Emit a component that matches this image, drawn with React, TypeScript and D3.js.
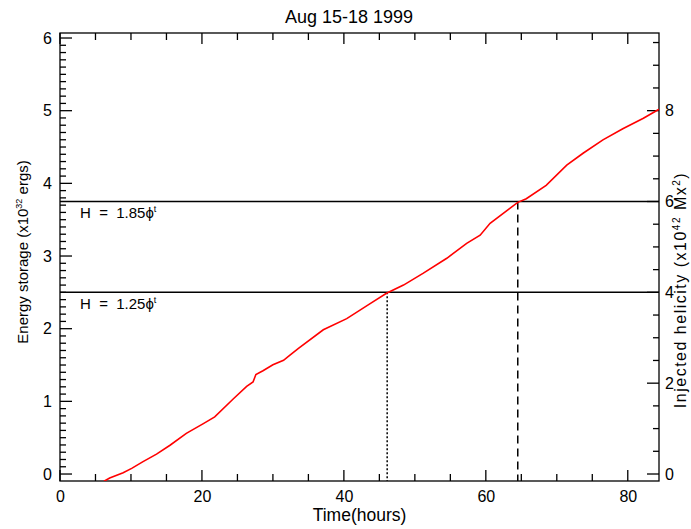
import React, { useEffect, useRef } from "react";
import * as d3 from "d3";

// energy storage curve
const hours = [6.2, 7.0, 8.9, 10.1, 11.7, 13.6, 15.5, 17.8, 20.2, 21.8, 24.4, 26.3, 27.2, 27.6, 28.6, 30.0, 31.5, 32.4, 33.6, 37.1, 40.4, 43.7, 46.0, 48.4, 51.2, 54.5, 57.3, 59.2, 60.6, 64.5, 65.7, 68.5, 71.4, 73.7, 76.5, 79.3, 82.2, 84.4];
const energy = [-0.1, -0.055, 0.017, 0.078, 0.17, 0.273, 0.396, 0.56, 0.693, 0.786, 1.032, 1.206, 1.267, 1.37, 1.421, 1.503, 1.565, 1.636, 1.729, 1.985, 2.138, 2.344, 2.487, 2.6, 2.764, 2.969, 3.174, 3.287, 3.451, 3.738, 3.789, 3.973, 4.25, 4.414, 4.599, 4.752, 4.896, 5.019];

// helicity levels on the right axis and where the curve crosses them
const helicityLevels = [4, 6];
const helicityLabels = ["1.25", "1.85"];
const crossHours = [46.1, 64.5];

const xTicks = [0, 20, 40, 60, 80];
const leftTicks = [0, 1, 2, 3, 4, 5, 6];
const rightTicks = [0, 2, 4, 6, 8];

const W = 691;
const H = 529;
const FONT = "'Liberation Sans', Arial, Helvetica, sans-serif";

const App = () => {
  const ref = useRef<SVGSVGElement>(null);

  useEffect(() => {
    const svg = d3.select(ref.current);
    svg.selectAll("*").remove();

    const margin = { top: 33, right: 32, bottom: 48, left: 60 };
    const width = W - margin.left - margin.right;
    const height = H - margin.top - margin.bottom;

    const x = d3.scaleLinear().domain([0, 84.4]).range([0, width]);
    const y = d3.scaleLinear().domain([-0.096, 6.069]).range([height, 0]);
    const y2 = d3.scaleLinear().domain([-0.154, 9.71]).range([height, 0]);

    const g = svg.append("g").attr("transform", `translate(${margin.left},${margin.top})`);

    g.append("clipPath").attr("id", "plot-clip")
      .append("rect").attr("width", width).attr("height", height);

    // tick marks, all pointing into the plot
    const tickLines = (vals: number[], pos: (v: number) => number, len: number, side: string) => {
      g.append("g").selectAll("line")
        .data(vals)
        .enter()
        .append("line")
        .attr("x1", d => side === "bottom" || side === "top" ? pos(d) : side === "left" ? 0 : width)
        .attr("x2", d => side === "bottom" || side === "top" ? pos(d) : side === "left" ? len : width - len)
        .attr("y1", d => side === "left" || side === "right" ? pos(d) : side === "top" ? 0 : height)
        .attr("y2", d => side === "left" || side === "right" ? pos(d) : side === "top" ? len : height - len)
        .attr("stroke", "#000")
        .attr("stroke-width", 1.3);
    };

    const xMinor = d3.range(5, 85, 5).filter(v => v % 20 !== 0);
    tickLines(xMinor, x, 7, "bottom");
    tickLines(xMinor, x, 7, "top");
    tickLines(xTicks, x, 11, "bottom");
    tickLines(xTicks, x, 11, "top");
    const yMinor = d3.range(1, 61).map(d => d / 10).filter(v => Math.abs(v - Math.round(v)) > 0.01);
    tickLines(yMinor, y, 6, "left");
    tickLines(leftTicks, y, 12, "left");
    const y2Minor = d3.range(1, 20).map(d => d / 2).filter(v => v % 2 !== 0);
    tickLines(y2Minor, y2, 6, "right");
    tickLines(rightTicks, y2, 12, "right");

    const styleAxis = (sel: any) => {
      sel.select(".domain").remove();
      sel.selectAll("text").attr("font-family", FONT).attr("font-size", 16).attr("fill", "#000");
    };

    // tick labels
    g.append("g").attr("transform", `translate(0,${height})`)
      .call(d3.axisBottom(x).tickValues(xTicks).tickSize(0).tickPadding(10).tickFormat(d3.format("d")))
      .call(styleAxis);
    g.append("g")
      .call(d3.axisLeft(y).tickValues(leftTicks).tickSize(0).tickPadding(8).tickFormat(d3.format("d")))
      .call(styleAxis);
    g.append("g").attr("transform", `translate(${width},0)`)
      .call(d3.axisRight(y2).tickValues(rightTicks).tickSize(0).tickPadding(6).tickFormat(d3.format("d")))
      .call(styleAxis);

    // frame
    g.append("rect").attr("width", width).attr("height", height)
      .attr("fill", "none").attr("stroke", "#000").attr("stroke-width", 1.3);

    // helicity levels
    helicityLevels.forEach((lv, i) => {
      g.append("line")
        .attr("x1", 0).attr("x2", width)
        .attr("y1", y2(lv)).attr("y2", y2(lv))
        .attr("stroke", "#000").attr("stroke-width", 1.5);
      const t = g.append("text")
        .attr("x", 20).attr("y", y2(lv) + 17)
        .attr("font-family", FONT).attr("font-size", 15)
        .attr("xml:space", "preserve");
      t.append("tspan").text(`H  =  ${helicityLabels[i]}\u03d5`);
      t.append("tspan").attr("dy", -6).attr("font-size", 9).text("t");

      g.append("line")
        .attr("x1", x(crossHours[i])).attr("x2", x(crossHours[i]))
        .attr("y1", y2(lv)).attr("y2", height)
        .attr("stroke", "#000").attr("stroke-width", 1.5)
        .attr("stroke-dasharray", i === 0 ? "2,2" : "8,5");
    });

    // energy curve
    const line = d3.line<number>()
      .x((_, i) => x(hours[i]))
      .y(d => y(d));
    g.append("path")
      .datum(energy)
      .attr("clip-path", "url(#plot-clip)")
      .attr("fill", "none")
      .attr("stroke", "#ff0000")
      .attr("stroke-width", 1.6)
      .attr("d", line);

    // titles
    svg.append("text")
      .attr("x", 349).attr("y", 23)
      .attr("text-anchor", "middle")
      .attr("font-family", FONT).attr("font-size", 18)
      .text("Aug 15-18 1999");

    svg.append("text")
      .attr("x", margin.left + width / 2).attr("y", 521)
      .attr("text-anchor", "middle")
      .attr("font-family", FONT).attr("font-size", 17.5)
      .text("Time(hours)");

    const yl = svg.append("text")
      .attr("transform", "translate(28,252) rotate(-90)")
      .attr("text-anchor", "middle")
      .attr("font-family", FONT).attr("font-size", 15);
    yl.append("tspan").text("Energy storage (x10");
    yl.append("tspan").attr("dy", -6).attr("font-size", 9).text("32");
    yl.append("tspan").attr("dy", 6).text(" ergs)");

    const yr = svg.append("text")
      .attr("transform", "translate(686,290) rotate(-90)")
      .attr("text-anchor", "middle")
      .attr("font-family", FONT).attr("font-size", 16)
      .attr("letter-spacing", 1.5);
    yr.append("tspan").text("Injected helicity (x10");
    yr.append("tspan").attr("dy", -6).attr("font-size", 10).text("42");
    yr.append("tspan").attr("dy", 6).text(" Mx");
    yr.append("tspan").attr("dy", -6).attr("font-size", 10).text("2");
    yr.append("tspan").attr("dy", 6).text(")");
  }, []);

  return (
    <svg
      ref={ref}
      width={W}
      height={H}
      style={{ position: "absolute", left: 0, top: 0, background: "#fff" }}
    />
  );
};

export default App;
